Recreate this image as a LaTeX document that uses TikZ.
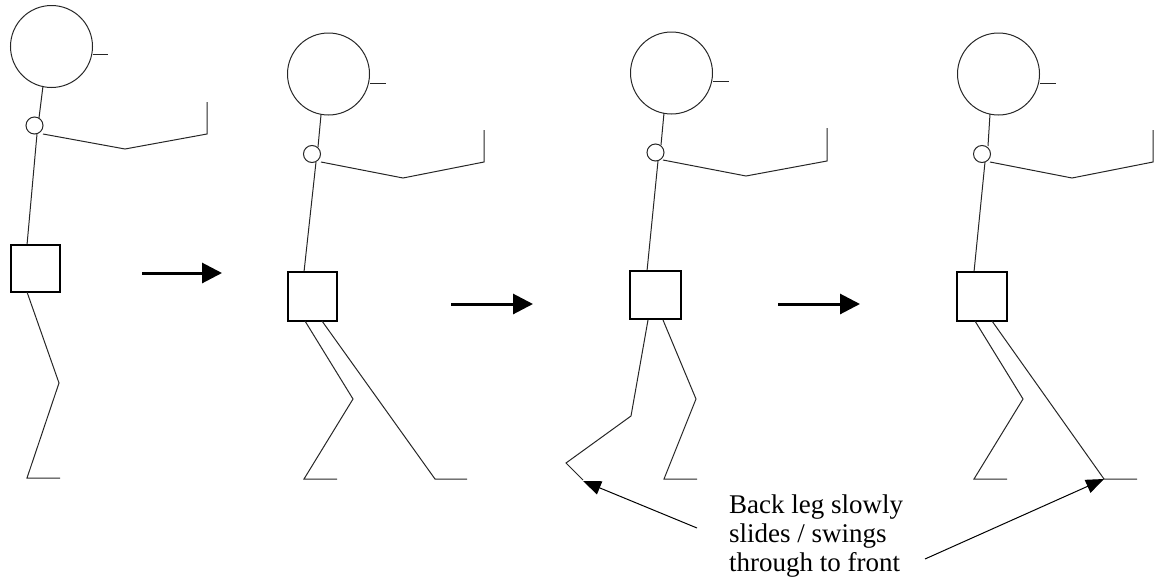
\documentclass[tikz,border=0pt]{standalone}
\usepackage{fontspec}
\setmainfont{Liberation Serif}
\usetikzlibrary{arrows.meta}
\begin{document}
\begin{tikzpicture}[x=1pt,y=-1pt,
  limb/.style={line width=1pt, line join=miter, color=black!85},
  hipbox/.style={draw, line width=1.3pt},
  move/.style={line width=3pt, -{Triangle[length=20pt,width=20pt]}},
  note/.style={line width=1pt, -{Triangle[length=18pt,width=14pt]}},
  label/.style={font=\fontsize{27}{29}\selectfont, align=left, inner sep=0pt}]
\useasboundingbox (0,0) rectangle (1159,581);

% ---------- figure 1 ----------
\draw[limb] (51.5,46.5) circle[radius=41pt];
\draw[limb] (93,54) -- (108,54);
\draw[limb] (43,86) -- (39,118);
\draw[limb] (34.5,125.5) circle[radius=8.5pt];
\draw[limb] (43,134) -- (125,149) -- (207,134) -- (207,102);
\draw[limb] (37,134) -- (27,245);
\draw[hipbox] (11,245) rectangle (60,292);
\draw[limb] (27,292) -- (59,383) -- (27,478) -- (60,478);

% ---------- figure 2 ----------
\draw[limb] (328.5,74) circle[radius=41pt];
\draw[limb] (370,83) -- (386,83);
\draw[limb] (321,115) -- (318,147);
\draw[limb] (312,154) circle[radius=8.5pt];
\draw[limb] (321,162) -- (403,178) -- (484,162) -- (484,130);
\draw[limb] (316,162) -- (304,272);
\draw[hipbox] (288,272) rectangle (337,321);
\draw[limb] (305,321) -- (353,399) -- (304,479) -- (337,479);
\draw[limb] (322,321) -- (435,479) -- (467,479);

% ---------- figure 3 ----------
\draw[limb] (671.5,73) circle[radius=41pt];
\draw[limb] (713,81) -- (729,81);
\draw[limb] (664,113) -- (661,145);
\draw[limb] (655.5,152.5) circle[radius=8.5pt];
\draw[limb] (663,160) -- (746,176) -- (827,161) -- (827,128);
\draw[limb] (658,161) -- (647,271);
\draw[hipbox] (630,271) rectangle (681,319);
\draw[limb] (648,320) -- (631,416) -- (566,463) -- (583,480);
\draw[limb] (663,320) -- (696,399) -- (664,479) -- (697,479);

% ---------- figure 4 ----------
\draw[limb] (998.5,74) circle[radius=41pt];
\draw[limb] (1040,83) -- (1056,83);
\draw[limb] (990,114) -- (988,146);
\draw[limb] (982,154) circle[radius=8.5pt];
\draw[limb] (990,162) -- (1072,178) -- (1153,162) -- (1153,130);
\draw[limb] (985,162) -- (974,272);
\draw[hipbox] (957,272) rectangle (1007,321);
\draw[limb] (975,321) -- (1023,399) -- (974,479) -- (1007,479);
\draw[limb] (992,321) -- (1104,479) -- (1137,479);

% ---------- motion arrows ----------
\coordinate (m1a) at (142,273); \coordinate (m1b) at (222,273);
\coordinate (m2a) at (451,304); \coordinate (m2b) at (533,304);
\coordinate (m3a) at (778,304); \coordinate (m3b) at (860,304);
\draw[move] (m1a) -- (m1b);
\draw[move] (m2a) -- (m2b);
\draw[move] (m3a) -- (m3b);

% ---------- annotation ----------
\node[label, anchor=north west] (txt) at (729,494.5)
  {Back leg slowly\\slides / swings\\through to front};
\coordinate (foot3) at (583,481);
\coordinate (foot4) at (1104,479);
\coordinate (n1) at (697,528);
\coordinate (n2) at (925,559);
\draw[note] (n1) -- (foot3);
\draw[note] (n2) -- (foot4);
\end{tikzpicture}
\end{document}
